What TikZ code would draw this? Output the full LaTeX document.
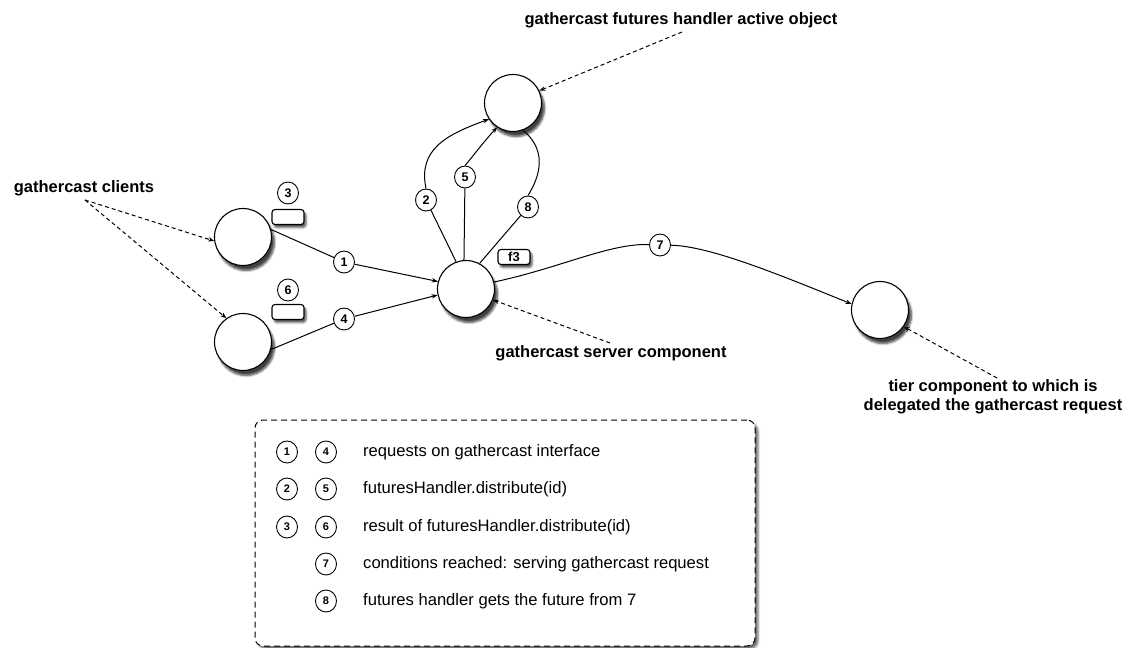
\documentclass[tikz,border=0pt]{standalone}
\usepackage{fontspec}
\setmainfont{Liberation Sans}
\usetikzlibrary{arrows.meta,shadows.blur,shapes.geometric}
\begin{document}
\begin{tikzpicture}[x=1pt,y=-1pt,
  comp/.style={circle,draw,line width=1.1pt,fill=white,minimum size=57pt,inner sep=0pt,
    blur shadow={shadow xshift=3pt,shadow yshift=-5pt,shadow blur steps=6,shadow opacity=75}},
  lbl/.style={ellipse,draw,line width=0.9pt,fill=white,minimum width=21pt,minimum height=22pt,inner sep=0pt,
    font=\fontsize{12.5}{13}\selectfont\bfseries},
  lgd/.style={ellipse,draw,line width=0.9pt,fill=white,minimum width=21pt,minimum height=22pt,inner sep=0pt,
    font=\fontsize{11}{12}\selectfont\bfseries},
  tag/.style={rectangle,rounded corners=3pt,draw,line width=1.1pt,fill=white,minimum width=32pt,minimum height=15pt,inner sep=0pt,
    font=\fontsize{13}{13}\selectfont\bfseries,
    blur shadow={shadow xshift=2pt,shadow yshift=-3pt,shadow blur steps=4,shadow opacity=70}},
  head/.style={font=\fontsize{16.5}{19}\selectfont\bfseries,align=center,inner sep=0pt},
  ltext/.style={font=\fontsize{16.6}{18}\selectfont,anchor=west,inner sep=0pt},
  conn/.style={line width=1pt},
  arr/.style={line width=1pt,-{Stealth[length=6pt,width=4.5pt]}},
  ptr/.style={line width=1pt,dash pattern=on 4pt off 3pt,-{Stealth[length=6pt,width=4.5pt]}}
]
\useasboundingbox (0,0) rectangle (1133,648);

% legend box
\node[draw,line width=1pt,dash pattern=on 6pt off 4pt,rounded corners=8pt,fill=white,minimum width=500pt,minimum height=226pt,
  blur shadow={shadow xshift=3pt,shadow yshift=-3pt,shadow blur steps=4,shadow opacity=60}] (legend) at (505,533) {};

% components
\node[comp] (hnd) at (513,103) {};
\node[comp] (c1) at (243,237) {};
\node[comp] (c2) at (243,342) {};
\node[comp] (srv) at (466,289) {};
\node[comp] (tier) at (880,310) {};

% tags
\node[tag] (t3) at (288,217) {};
\node[tag] (t6) at (288,312) {};
\node[tag] (f3) at (514,257) {f3};

% labels
\node[lbl] (l3) at (288,193) {3};
\node[lbl] (l6) at (288,290) {6};
\node[lbl] (l1) at (344,262) {1};
\node[lbl] (l4) at (344,319) {4};
\node[lbl] (l2) at (426,200) {2};
\node[lbl] (l5) at (465,177) {5};
\node[lbl] (l8) at (528,207) {8};
\node[lbl] (l7) at (660,245) {7};

% connectors
\draw[conn] (c1.15) -- (l1);
\draw[arr] (l1) -- (srv.165);
\draw[conn] (c2.-15) -- (l4);
\draw[arr] (l4) -- (srv.192);
\draw[conn] (srv.110) -- (l2);
\draw[arr] (l2.north) .. controls (418,150) and (445,135) .. (hnd.214);
\draw[conn] (srv.94) -- (l5);
\draw[arr] (l5.north) .. controls (470,160) and (485,140) .. (hnd.237);
\draw[conn] (hnd.290) .. controls (535,140) and (550,160) .. (l8.north);
\draw[conn] (l8) -- (srv.62);
\draw[conn] (srv.14) .. controls (560,268) and (610,243) .. (l7);
\draw[arr] (l7) .. controls (710,246) and (780,275) .. (tier.168);

% annotations
\node[head] (thnd) at (681,20) {gathercast futures handler active object};
\node[head] (tcli) at (84,188) {gathercast clients};
\node[head] (tsrv) at (611,353) {gathercast server component};
\node[head] (ttier) at (993,397) {tier component to which is\\delegated the gathercast request};
\coordinate (phnd) at (682,32);
\coordinate (pcli) at (85,200);
\coordinate (psrv) at (610,343);
\coordinate (ptier) at (997,378);
\draw[ptr] (phnd) -- (hnd.25);
\draw[ptr] (pcli) -- (c1.188);
\draw[ptr] (pcli) -- (c2.125);
\draw[ptr] (psrv) -- (srv.-22);
\draw[ptr] (ptier) -- (tier.-35);

% legend content
\node[lgd] (a1) at (287,452) {1};
\node[lgd] (a4) at (326,452) {4};
\node[lgd] (a2) at (287,489) {2};
\node[lgd] (a5) at (326,489) {5};
\node[lgd] (a3) at (287,527) {3};
\node[lgd] (a6) at (326,527) {6};
\node[lgd] (a7) at (326,564) {7};
\node[lgd] (a8) at (326,601) {8};
\node[ltext] (x1) at (363,452) {requests on gathercast interface};
\node[ltext] (x2) at (363,489) {futuresHandler.distribute(id)};
\node[ltext] (x3) at (363,527) {result of futuresHandler.distribute(id)};
\node[ltext] (x4) at (363,564) {conditions reached: serving gathercast request};
\node[ltext] (x5) at (363,601) {futures handler gets the future from 7};
\end{tikzpicture}
\end{document}
